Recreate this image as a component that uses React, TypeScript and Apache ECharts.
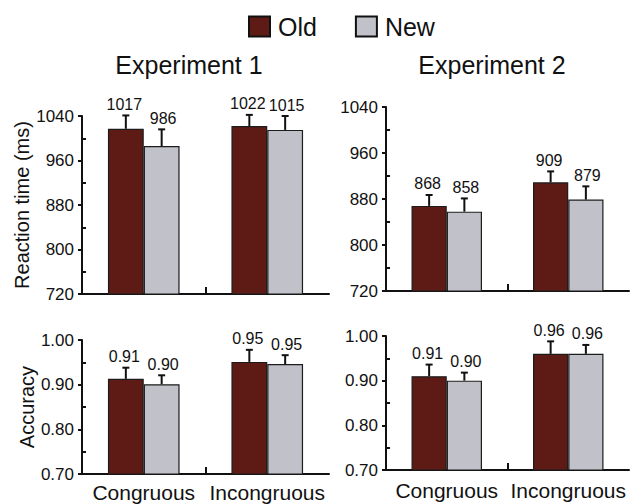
import { useEffect, useRef } from 'react';
import * as echarts from 'echarts';

const conditions = ['Congruous', 'Incongruous'];
const groupNames = ['Old', 'New'];
const experimentTitles = ['Experiment 1', 'Experiment 2'];

// Reaction time (ms), means and error bars
const rtOldExp1 = [1017, 1022];
const rtNewExp1 = [986, 1015];
const rtOldErrExp1 = [24, 20];
const rtNewErrExp1 = [30, 25];
const rtOldExp2 = [868, 909];
const rtNewExp2 = [858, 879];
const rtOldErrExp2 = [19, 19];
const rtNewErrExp2 = [23, 23];

// Accuracy, means and error bars
const accOldExp1 = [0.913, 0.951];
const accNewExp1 = [0.901, 0.946];
const accOldErrExp1 = [0.025, 0.027];
const accNewErrExp1 = [0.02, 0.02];
const accOldExp2 = [0.91, 0.96];
const accNewExp2 = [0.9, 0.96];
const accOldErrExp2 = [0.026, 0.028];
const accNewErrExp2 = [0.018, 0.02];

// Axis ranges
const rtTicks = [720, 800, 880, 960, 1040];
const accTicks = [0.7, 0.8, 0.9, 1.0];

const OLD_COLOR = '#5e1b16';
const NEW_COLOR = '#c1c1c9';
const INK = '#111111';
const FONT = '"Liberation Sans", Arial, Helvetica, sans-serif';
const BAR_GAP_CAT = 0.42;

type Panel = {
  box: { left: number; top: number; width: number; height: number };
  old: number[];
  neu: number[];
  oldErr: number[];
  newErr: number[];
  ticks: number[];
  name: string;
  fmt: (v: number) => string;
  showCats: boolean;
  catMargin: number;
};

const rtFmt = (v: number) => String(Math.round(v));
const accFmt = (v: number) => v.toFixed(2);

const panels: Panel[] = [
  {
    box: { left: 82, top: 116, width: 247, height: 178 },
    old: rtOldExp1, neu: rtNewExp1, oldErr: rtOldErrExp1, newErr: rtNewErrExp1,
    ticks: rtTicks, name: 'Reaction time (ms)', fmt: rtFmt, showCats: false, catMargin: 8,
  },
  {
    box: { left: 386, top: 107, width: 243, height: 184 },
    old: rtOldExp2, neu: rtNewExp2, oldErr: rtOldErrExp2, newErr: rtNewErrExp2,
    ticks: rtTicks, name: '', fmt: rtFmt, showCats: false, catMargin: 8,
  },
  {
    box: { left: 82, top: 340, width: 247, height: 134 },
    old: accOldExp1, neu: accNewExp1, oldErr: accOldErrExp1, newErr: accNewErrExp1,
    ticks: accTicks, name: 'Accuracy', fmt: accFmt, showCats: true, catMargin: 8,
  },
  {
    box: { left: 386, top: 336, width: 243, height: 134 },
    old: accOldExp2, neu: accNewExp2, oldErr: accOldErrExp2, newErr: accNewErrExp2,
    ticks: accTicks, name: '', fmt: accFmt, showCats: true, catMargin: 10,
  },
];

function errorBarSeries(p: number, name: string, values: number[], errs: number[], side: number, fmt: (v: number) => string) {
  return {
    type: 'custom',
    name,
    xAxisIndex: p * 2,
    yAxisIndex: p,
    z: 5,
    silent: true,
    data: values.map((v, i) => [i, v, errs[i]]),
    renderItem: (_params: any, api: any) => {
      const ci = api.value(0);
      const v = api.value(1);
      const e = api.value(2);
      const band = api.size([1, 0])[0];
      const barW = (band * (1 - BAR_GAP_CAT)) / 2;
      const base = api.coord([ci, v]);
      const top = api.coord([ci, v + e]);
      const x = base[0] + (side * barW) / 2;
      return {
        type: 'group',
        children: [
          { type: 'line', shape: { x1: x, y1: base[1], x2: x, y2: top[1] }, style: { stroke: INK, lineWidth: 2 } },
          { type: 'line', shape: { x1: x - 3.5, y1: top[1], x2: x + 3.5, y2: top[1] }, style: { stroke: INK, lineWidth: 2 } },
          {
            type: 'text',
            x: x + side * 1.5,
            y: top[1] - 3,
            style: {
              text: fmt(v),
              textAlign: 'center',
              textVerticalAlign: 'bottom',
              fontSize: 16,
              fontFamily: FONT,
              fill: INK,
            },
          },
        ],
      };
    },
  };
}

export default function App() {
  const ref = useRef<HTMLDivElement>(null);

  useEffect(() => {
    if (!ref.current) return;
    const chart = echarts.init(ref.current, undefined, { renderer: 'svg' });

    const grid: any[] = [];
    const xAxis: any[] = [];
    const yAxis: any[] = [];
    const series: any[] = [];

    panels.forEach((pn, p) => {
      grid.push({ ...pn.box, containLabel: false, outerBoundsMode: 'none' });
      xAxis.push({
        type: 'category',
        gridIndex: p,
        data: conditions,
        boundaryGap: true,
        axisLine: { show: true, lineStyle: { color: INK, width: 2 } },
        axisTick: { show: false },
        axisLabel: {
          show: pn.showCats,
          interval: 0,
          hideOverlap: false,
          margin: pn.catMargin,
          fontSize: 21,
          fontFamily: FONT,
          color: INK,
        },
        splitLine: { show: false },
      });
      // Divider tick between the two condition groups
      xAxis.push({
        type: 'value',
        gridIndex: p,
        min: 0,
        max: 2,
        interval: 1,
        position: 'bottom',
        axisLine: { show: false },
        axisLabel: { show: false },
        splitLine: { show: false },
        axisTick: {
          show: true,
          inside: true,
          length: 7,
          customValues: [1],
          lineStyle: { color: INK, width: 2 },
        },
      });
      const tks = pn.ticks;
      yAxis.push({
        type: 'value',
        gridIndex: p,
        min: tks[0],
        max: tks[tks.length - 1],
        interval: tks[1] - tks[0],
        name: pn.name,
        nameLocation: 'middle',
        nameGap: 44,
        nameTextStyle: { fontSize: 20, fontFamily: FONT, color: INK },
        axisLine: { show: true, lineStyle: { color: INK, width: 2 } },
        axisTick: { show: true, inside: false, length: 4, lineStyle: { color: INK, width: 2 } },
        minorTick: { show: true, splitNumber: 2, length: -4, lineStyle: { color: INK, width: 2 } },
        axisLabel: {
          margin: 8,
          fontSize: 17,
          fontFamily: FONT,
          color: INK,
          formatter: (v: number) => pn.fmt(v),
        },
        splitLine: { show: false },
      });
      series.push({
        type: 'bar',
        name: groupNames[0],
        xAxisIndex: p * 2,
        yAxisIndex: p,
        data: pn.old,
        barGap: '0%',
        barCategoryGap: `${BAR_GAP_CAT * 100}%`,
        itemStyle: { color: OLD_COLOR, borderColor: '#1c1c1c', borderWidth: 1.2 },
      });
      series.push({
        type: 'bar',
        name: groupNames[1],
        xAxisIndex: p * 2,
        yAxisIndex: p,
        data: pn.neu,
        barGap: '0%',
        barCategoryGap: `${BAR_GAP_CAT * 100}%`,
        itemStyle: { color: NEW_COLOR, borderColor: '#1c1c1c', borderWidth: 1.2 },
      });
      series.push(errorBarSeries(p, groupNames[0], pn.old, pn.oldErr, -1, pn.fmt));
      series.push(errorBarSeries(p, groupNames[1], pn.neu, pn.newErr, 1, pn.fmt));
    });

    chart.setOption({
      animation: false,
      backgroundColor: '#ffffff',
      textStyle: { fontFamily: FONT },
      title: [
        {
          text: experimentTitles[0],
          left: 189,
          top: 52,
          padding: 0,
          textAlign: 'center',
          textStyle: { fontSize: 25, fontWeight: 'normal', color: INK, fontFamily: FONT },
        },
        {
          text: experimentTitles[1],
          left: 492,
          top: 52,
          padding: 0,
          textAlign: 'center',
          textStyle: { fontSize: 25, fontWeight: 'normal', color: INK, fontFamily: FONT },
        },
      ],
      legend: {
        left: 248,
        top: 14,
        padding: 0,
        itemWidth: 21,
        itemHeight: 20,
        itemGap: 38,
        icon: 'rect',
        selectedMode: false,
        data: [
          { name: groupNames[0], itemStyle: { color: OLD_COLOR, borderColor: INK, borderWidth: 2 } },
          { name: groupNames[1], itemStyle: { color: NEW_COLOR, borderColor: INK, borderWidth: 2 } },
        ],
        textStyle: { fontSize: 25, color: INK, fontFamily: FONT, padding: [0, 0, 0, 3] },
      },
      grid,
      xAxis,
      yAxis,
      series,
    });

    return () => chart.dispose();
  }, []);

  return (
    <div
      ref={ref}
      style={{ position: 'fixed', left: 0, top: 0, width: 638, height: 504, background: '#fff' }}
    />
  );
}
